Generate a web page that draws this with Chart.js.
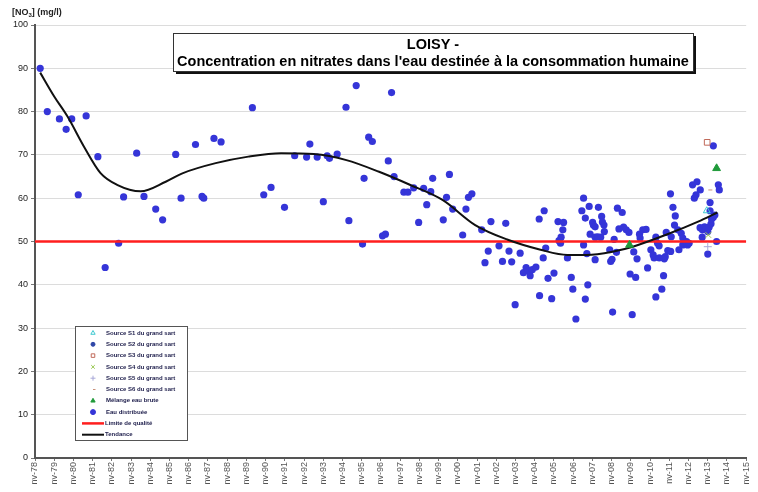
<!DOCTYPE html>
<html>
<head>
<meta charset="utf-8">
<script src="https://cdn.jsdelivr.net/npm/chart.js@4.4.0/dist/chart.umd.min.js"></script>
<style>
  body { margin: 0; background: #fff; }
</style>
</head>
<body>
<canvas id="myChart" width="758" height="492"></canvas>
<script>
const titleLines = ['LOISY -', 'Concentration en nitrates dans l\'eau destinée à la consommation humaine'];
const xTickLabels = ['nv-78','nv-79','nv-80','nv-81','nv-82','nv-83','nv-84','nv-85','nv-86','nv-87',
  'nv-88','nv-89','nv-90','nv-91','nv-92','nv-93','nv-94','nv-95','nv-96','nv-97','nv-98','nv-99',
  'nv-00','nv-01','nv-02','nv-03','nv-04','nv-05','nv-06','nv-07','nv-08','nv-09','nv-10','nv-11',
  'nv-12','nv-13','nv-14','nv-15'];

// Eau distribuée
const distYears = [1978.27,1978.64,1979.27,1979.62,1979.91,1980.25,1980.66,1981.27,1981.65,1982.35,
  1982.61,1983.29,1983.67,1984.28,1984.64,1985.32,1985.6,1986.35,1986.69,1986.78,1987.31,1987.68,
  1989.31,1989.9,1990.28,1990.98,1991.51,1992.13,1992.3,1992.68,1993.0,1993.2,1993.32,1993.72,
  1994.18,1994.33,1994.71,1995.04,1995.12,1995.36,1995.55,1996.08,1996.23,1996.38,1996.55,1996.68,
  1997.19,1997.4,1997.7,1997.96,1998.22,1998.38,1998.59,1998.69,1999.24,1999.41,1999.56,1999.73,
  2000.25,2000.42,2000.55,2000.73,2001.24,2001.41,2001.58,2001.72,2002.14,2002.32,2002.49,2002.66,
  2002.8,2002.98,2003.24,2003.41,2003.55,2003.67,2003.76,2003.87,2004.06,2004.23,2004.25,2004.44,
  2004.49,2004.57,2004.69,2004.88,2005.0,2005.21,2005.26,2005.34,2005.37,2005.46,2005.5,2005.7,
  2005.9,2005.98,2006.14,2006.45,2006.54,2006.54,2006.63,2006.63,2006.71,2006.76,2006.83,2006.88,
  2007.01,2007.05,2007.14,2007.14,2007.14,2007.27,2007.31,2007.43,2007.48,2007.52,2007.6,2007.62,
  2007.9,2007.95,2008.02,2008.05,2008.13,2008.25,2008.3,2008.38,2008.55,2008.62,2008.76,2008.9,
  2008.96,2009.07,2009.15,2009.25,2009.32,2009.45,2009.48,2009.62,2009.79,2009.87,2010.04,2010.16,
  2010.21,2010.3,2010.3,2010.39,2010.47,2010.48,2010.61,2010.7,2010.74,2010.79,2010.84,2010.92,
  2011.06,2011.07,2011.1,2011.19,2011.27,2011.31,2011.44,2011.5,2011.62,2011.7,2011.7,2011.86,
  2011.9,2011.95,2012.03,2012.21,2012.3,2012.39,2012.44,2012.6,2012.61,2012.71,2012.72,2012.83,
  2012.9,2013.0,2013.0,2013.07,2013.12,2013.12,2013.17,2013.2,2013.29,2013.29,2013.37,2013.46,
  2013.55,2013.6];
const distValues = [90.0,80.0,78.3,75.9,78.3,60.8,79.0,69.6,44.0,49.6,
  60.3,70.4,60.4,57.5,55.0,70.1,60.0,72.4,60.4,60.0,73.8,73.0,
  80.9,60.8,62.5,57.9,69.8,69.5,72.5,69.5,59.2,69.8,69.2,70.2,
  81.0,54.8,86.0,49.4,64.6,74.1,73.1,51.3,51.7,68.6,84.4,65.0,
  61.4,61.4,62.4,54.4,62.3,58.5,61.5,64.6,55.0,60.2,65.5,57.5,
  51.5,57.5,60.2,61.0,52.7,45.1,47.8,54.6,49.0,45.4,54.2,47.8,
  45.3,35.4,47.3,42.8,44.0,43.2,42.1,43.5,44.1,55.2,37.5,46.2,
  57.1,48.5,41.5,36.8,42.7,54.6,50.2,49.6,51.0,52.7,54.4,46.2,
  41.7,39.0,32.1,57.1,60.0,49.2,55.4,36.7,47.2,40.0,58.1,51.7,
  54.4,53.8,53.4,51.0,45.8,51.1,57.9,51.0,55.8,54.5,53.8,52.3,
  48.1,45.4,45.9,33.7,50.5,47.5,57.7,52.9,56.7,53.3,52.7,52.1,
  42.5,33.1,47.6,41.7,46.0,51.7,50.8,52.7,52.8,43.9,48.1,46.9,
  46.2,51.0,37.2,49.6,49.0,46.2,39.0,42.1,46.0,46.5,52.1,47.9,
  61.0,47.7,51.1,57.9,53.8,55.9,52.7,48.1,51.9,50.8,49.2,49.6,
  50.0,49.2,49.6,63.1,60.0,60.8,63.8,53.2,61.9,51.0,52.7,53.4,
  52.8,52.3,47.1,53.3,59.0,57.1,54.1,55.2,55.6,72.1,56.1,50.0,
  63.1,61.9];

// sources du grand sart + mélange
const s1Years = [2012.95], s1Values = [57.1];
const s2Years = [], s2Values = [];
const s3Years = [2012.97], s3Values = [72.9];
const s4Years = [2013.03], s4Values = [51.5];
const s5Years = [2013.0], s5Values = [48.8];
const s6Years = [2013.03], s6Values = [61.9];
const mixYears = [2008.93, 2013.46], mixValues = [49.2, 66.9];

// limite de qualité et tendance
const limitYears = [1978, 2015], limitValues = [50, 50];
const trendYears = [1978.27,1979.0,1979.7,1980.55,1981.41,1982.27,1983.5,1984.8,1985.7,1987.4,1989.1,
  1990.8,1992.5,1994.2,1995.9,1997.5,1999.2,2000.9,2002.6,2004.3,2005.7,2006.7,2008.1,2009.1,2010.8,
  2012.5,2013.5];
const trendValues = [89.0,83.5,78.8,71.9,65.8,63.1,61.6,63.8,65.8,68.1,69.6,
  70.4,70.2,68.8,66.1,63.1,59.6,53.8,50.4,48.1,46.9,46.9,47.7,48.8,51.5,
  54.6,56.7];

const pts = (xs, ys) => xs.map((x, i) => ({x: x, y: ys[i]}));

const markerSet = (label, xs, ys, style, color, fill, r) => ({
  label: label,
  data: pts(xs, ys),
  pointStyle: style,
  pointRadius: r,
  pointBorderColor: color,
  pointBackgroundColor: fill,
  pointBorderWidth: 1,
  borderColor: color,
  backgroundColor: fill,
  showLine: false,
  order: 0
});

const font = '"Liberation Sans", Arial, sans-serif';

const overlay = {
  id: 'overlay',
  afterDraw(chart) {
    const ctx = chart.ctx;
    ctx.save();

    // unit label top-left
    ctx.fillStyle = '#222';
    ctx.textAlign = 'left';
    ctx.textBaseline = 'alphabetic';
    let x = 12;
    ctx.font = 'bold 9px ' + font;
    ctx.fillText('[NO', x, 15);
    x += ctx.measureText('[NO').width;
    ctx.font = 'bold 6px ' + font;
    ctx.fillText('3', x, 17);
    x += ctx.measureText('3').width;
    ctx.font = 'bold 9px ' + font;
    ctx.fillText('] (mg/l)', x, 15);

    // title box
    const bx = 173, by = 33, bw = 520, bh = 38;
    ctx.fillStyle = '#111';
    ctx.fillRect(bx + 3, by + 3, bw, bh);
    ctx.fillStyle = '#fff';
    ctx.fillRect(bx, by, bw, bh);
    ctx.strokeStyle = '#333';
    ctx.lineWidth = 1;
    ctx.strokeRect(bx + 0.5, by + 0.5, bw, bh);
    ctx.fillStyle = '#000';
    ctx.textAlign = 'center';
    ctx.font = 'bold 14.5px ' + font;
    ctx.fillText(titleLines[0], bx + bw / 2, by + 16);
    ctx.fillText(titleLines[1], bx + bw / 2, by + 33);

    // legend box
    const lx = 75, ly = 326, lw = 112, lh = 114;
    ctx.fillStyle = '#fff';
    ctx.fillRect(lx, ly, lw, lh);
    ctx.strokeStyle = '#555';
    ctx.strokeRect(lx + 0.5, ly + 0.5, lw, lh);
    ctx.textAlign = 'left';
    ctx.textBaseline = 'middle';
    ctx.font = 'bold 6px ' + font;
    chart.data.datasets.forEach((ds, i) => {
      const y = ly + 7 + i * 11.3;
      if (ds.showLine) {
        ctx.strokeStyle = ds.borderColor;
        ctx.lineWidth = ds.borderWidth;
        ctx.beginPath();
        ctx.moveTo(lx + 7, y);
        ctx.lineTo(lx + 29, y);
        ctx.stroke();
      } else {
        ctx.fillStyle = ds.pointBackgroundColor;
        ctx.strokeStyle = ds.pointBorderColor;
        ctx.lineWidth = 1;
        Chart.helpers.drawPoint(ctx, {
          pointStyle: ds.pointStyle,
          radius: Math.min(ds.pointRadius, 2.5),
          rotation: 0,
          borderWidth: 1
        }, lx + 18, y);
      }
      ctx.fillStyle = '#1c1c4a';
      ctx.fillText(ds.label, lx + (ds.showLine ? 30 : 31), y);
    });
    ctx.restore();
  }
};

const ctx = document.getElementById('myChart');
const myChart = new Chart(ctx, {
  type: 'scatter',
  data: {
    datasets: [
      markerSet('Source S1 du grand sart', s1Years, s1Values, 'triangle', '#3cc8d0', 'rgba(255,255,255,0)', 4),
      markerSet('Source S2 du grand sart', s2Years, s2Values, 'circle', '#3048a8', '#3048a8', 2),
      markerSet('Source S3 du grand sart', s3Years, s3Values, 'rect', '#c06a5a', '#ffffff', 4),
      markerSet('Source S4 du grand sart', s4Years, s4Values, 'crossRot', '#98c850', '#98c850', 4),
      markerSet('Source S5 du grand sart', s5Years, s5Values, 'cross', '#a8a8d8', '#a8a8d8', 4),
      markerSet('Source S6 du grand sart', s6Years, s6Values, 'dash', '#c8907a', '#c8907a', 4),
      markerSet('Mélange eau brute', mixYears, mixValues, 'triangle', '#1f9a3a', '#1f9a3a', 4.5),
      {
        label: 'Eau distribuée',
        data: pts(distYears, distValues),
        pointStyle: 'circle',
        pointRadius: 3.6,
        pointBackgroundColor: '#3535d8',
        pointBorderColor: '#3535d8',
        pointBorderWidth: 0,
        backgroundColor: '#3535d8',
        borderColor: '#3535d8',
        showLine: false,
        order: 3
      },
      {
        label: 'Limite de qualité',
        data: pts(limitYears, limitValues),
        showLine: true,
        borderColor: '#ff1e1e',
        borderWidth: 2.5,
        pointRadius: 0,
        order: 2
      },
      {
        label: 'Tendance',
        data: pts(trendYears, trendValues),
        showLine: true,
        borderColor: '#111',
        borderWidth: 2,
        pointRadius: 0,
        cubicInterpolationMode: 'monotone',
        order: 1
      }
    ]
  },
  options: {
    responsive: false,
    animation: false,
    layout: { padding: { top: 25, right: 1, left: 0, bottom: 0 } },
    scales: {
      x: {
        type: 'linear',
        min: 1978,
        max: 2015,
        afterFit: (scale) => { scale.height = 34; },
        grid: {
          drawOnChartArea: false,
          tickLength: 3,
          tickColor: '#777'
        },
        border: { color: '#555', width: 2 },
        ticks: {
          stepSize: 1,
          autoSkip: false,
          maxRotation: 90,
          minRotation: 90,
          padding: 1,
          color: '#555',
          font: { family: font, size: 9 },
          callback: (v) => xTickLabels[Math.round(v - 1978)]
        }
      },
      y: {
        min: 0,
        max: 100,
        afterFit: (scale) => { scale.width = 35; },
        grid: {
          color: '#dcdcdc',
          lineWidth: 1,
          tickLength: 4,
          tickColor: '#777'
        },
        border: { color: '#555', width: 2 },
        ticks: {
          stepSize: 10,
          padding: 3,
          color: '#222',
          font: { family: font, size: 9 }
        }
      }
    },
    plugins: {
      legend: { display: false },
      tooltip: { enabled: false }
    }
  },
  plugins: [overlay]
});
</script>
</body>
</html>
